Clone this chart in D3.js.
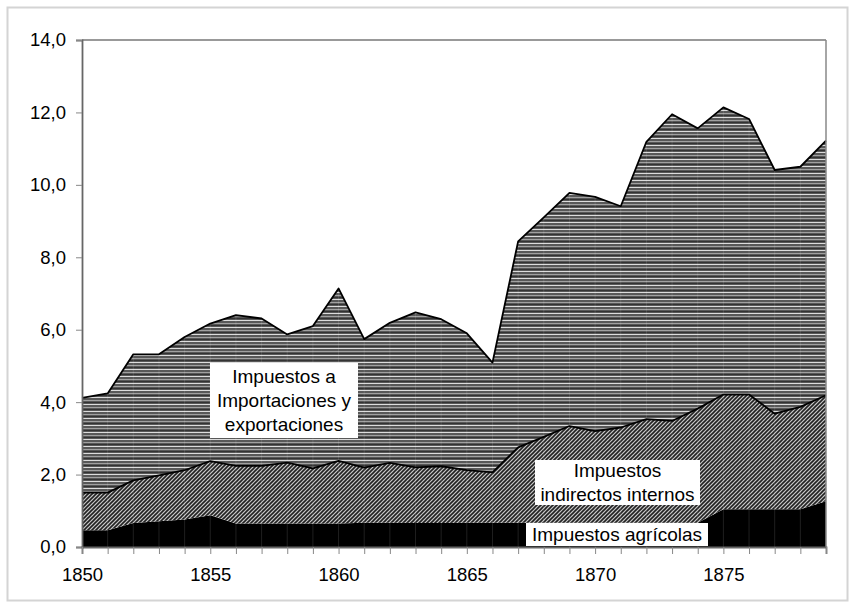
<!DOCTYPE html>
<html>
<head>
<meta charset="utf-8">
<script src="https://cdn.jsdelivr.net/npm/d3@7"></script>
<style>
  body { margin: 0; background: #fff; }
  svg { display: block; font-family: "Liberation Sans", Arial, sans-serif; }
</style>
</head>
<body>
<svg id="chart" width="855" height="608"></svg>
<script>
// data (millones)
var years = d3.range(1850, 1880);
var agricolas = [0.46,0.46,0.66,0.71,0.76,0.88,0.65,0.65,0.65,0.65,0.65,0.67,0.67,0.66,0.66,0.67,0.67,0.67,0.67,0.67,0.67,0.67,0.67,0.67,0.67,1.04,1.04,1.04,1.04,1.26];
var indirectos = [1.04,1.04,1.18,1.27,1.36,1.49,1.59,1.59,1.68,1.52,1.73,1.52,1.65,1.54,1.57,1.45,1.39,2.08,2.37,2.67,2.53,2.63,2.86,2.81,3.15,3.17,3.17,2.64,2.83,2.93];
var importaciones = [2.62,2.74,3.48,3.34,3.68,3.80,4.16,4.07,3.54,3.93,4.76,3.55,3.87,4.28,4.06,3.78,3.03,5.69,6.06,6.44,6.47,6.11,7.66,8.47,7.74,7.93,7.61,6.73,6.63,7.03];
var yTicks = [0, 2, 4, 6, 8, 10, 12, 14];
var xTicks = [1850, 1855, 1860, 1865, 1870, 1875];

var svg = d3.select("#chart");
var m = {left: 82, right: 29, top: 40, bottom: 61};
var width = 855 - m.left - m.right,
    height = 608 - m.top - m.bottom;

// outer frame
svg.append("rect").attr("x", 7.5).attr("y", 7.5).attr("width", 840).attr("height", 593)
  .attr("fill", "none").attr("stroke", "#d4d4d4").attr("stroke-width", 2);

var defs = svg.append("defs");

// horizontal stripes for imports
var p1 = defs.append("pattern").attr("id", "stripes").attr("patternUnits", "userSpaceOnUse")
  .attr("width", 8).attr("height", 7);
p1.append("rect").attr("width", 8).attr("height", 7).attr("fill", "#585858");
p1.append("rect").attr("y", 0).attr("width", 8).attr("height", 1).attr("fill", "#dcdcdc");
p1.append("rect").attr("y", 3).attr("width", 8).attr("height", 1).attr("fill", "#a0a0a0");
p1.append("rect").attr("y", 5).attr("width", 8).attr("height", 1).attr("fill", "#333");

// diagonal hatch for indirect taxes
var p2 = defs.append("pattern").attr("id", "hatch").attr("patternUnits", "userSpaceOnUse")
  .attr("width", 4).attr("height", 4);
p2.append("rect").attr("width", 4).attr("height", 4).attr("fill", "#c8c8c8");
p2.append("path").attr("d", "M-1,1 l2,-2 M0,4 l4,-4 M3,5 l2,-2")
  .attr("stroke", "#222").attr("stroke-width", 1.6);

var g = svg.append("g").attr("transform", "translate(" + m.left + "," + m.top + ")");

var x = d3.scaleLinear().domain([1850, 1879]).range([0, width]);
var y = d3.scaleLinear().domain([0, 14]).range([height, 0]);

var rows = years.map(function(yr, i) {
  return {year: yr, agr: agricolas[i], ind: indirectos[i], imp: importaciones[i]};
});
var keys = ["agr", "ind", "imp"];
var fills = {agr: "#000", ind: "url(#hatch)", imp: "url(#stripes)"};

var stack = d3.stack().keys(keys);
var series = stack(rows);

var area = d3.area()
  .x(function(d) { return x(d.data.year); })
  .y0(function(d) { return y(d[0]); })
  .y1(function(d) { return y(d[1]); });

var line = d3.line()
  .x(function(d) { return x(d.data.year); })
  .y(function(d) { return y(d[1]); });

g.selectAll(".area").data(series).enter().append("path")
  .attr("class", "area")
  .attr("d", area)
  .attr("fill", function(d) { return fills[d.key]; });

// faint year lines showing through the fills
g.selectAll(".yl").data(years).enter().append("line")
  .attr("x1", function(d) { return x(d); }).attr("x2", function(d) { return x(d); })
  .attr("y1", function(d, i) { return y(agricolas[i] + indirectos[i] + importaciones[i]); })
  .attr("y2", height)
  .attr("stroke", "#fff").attr("stroke-opacity", 0.12).attr("stroke-width", 1);

g.selectAll(".edge").data(series.slice(1)).enter().append("path")
  .attr("d", line)
  .attr("fill", "none").attr("stroke", "#000").attr("stroke-width", 1.8)
  .attr("stroke-linejoin", "round");

// frame top and right
g.append("line").attr("x1", 0).attr("x2", width).attr("y1", 0).attr("y2", 0)
  .attr("stroke", "#777").attr("stroke-width", 1.5);
g.append("line").attr("x1", width).attr("x2", width).attr("y1", 0).attr("y2", height)
  .attr("stroke", "#888").attr("stroke-width", 1.5);

// axes
var yAxis = g.append("g").call(d3.axisLeft(y).tickValues(yTicks).tickSize(6).tickPadding(10)
  .tickFormat(function(d) { return d3.format(".1f")(d).replace(".", ","); }));
var xAxis = g.append("g").attr("transform", "translate(0," + height + ")")
  .call(d3.axisBottom(x).tickValues(years).tickSize(7).tickPadding(14)
  .tickFormat(function(d) { return xTicks.indexOf(d) >= 0 ? d : ""; }));

[yAxis, xAxis].forEach(function(a) {
  a.select(".domain").attr("stroke", "#666").attr("stroke-width", 1.8);
  a.selectAll(".tick line").attr("stroke", "#888");
  a.selectAll("text").attr("font-size", 18.5).attr("fill", "#000")
    .attr("font-family", "Liberation Sans, Arial, sans-serif");
});

// labels in white boxes
var labels = [
  {lines: ["Impuestos a", "Importaciones y", "exportaciones"], x: 128, y: 323, w: 148, h: 75},
  {lines: ["Impuestos", "indirectos internos"], x: 453, y: 420, w: 165, h: 45},
  {lines: ["Impuestos agrícolas"], x: 444, y: 483, w: 182, h: 23}
];
labels.forEach(function(l) {
  var lg = g.append("g");
  lg.append("rect").attr("x", l.x).attr("y", l.y).attr("width", l.w).attr("height", l.h).attr("fill", "#fff");
  var lh = 24;
  var y0 = l.y + l.h / 2 - (l.lines.length - 1) * lh / 2;
  l.lines.forEach(function(t, i) {
    lg.append("text").attr("x", l.x + l.w / 2).attr("y", y0 + i * lh)
      .attr("dy", "0.36em").attr("text-anchor", "middle")
      .attr("font-size", 19).text(t);
  });
});
</script>
</body>
</html>
